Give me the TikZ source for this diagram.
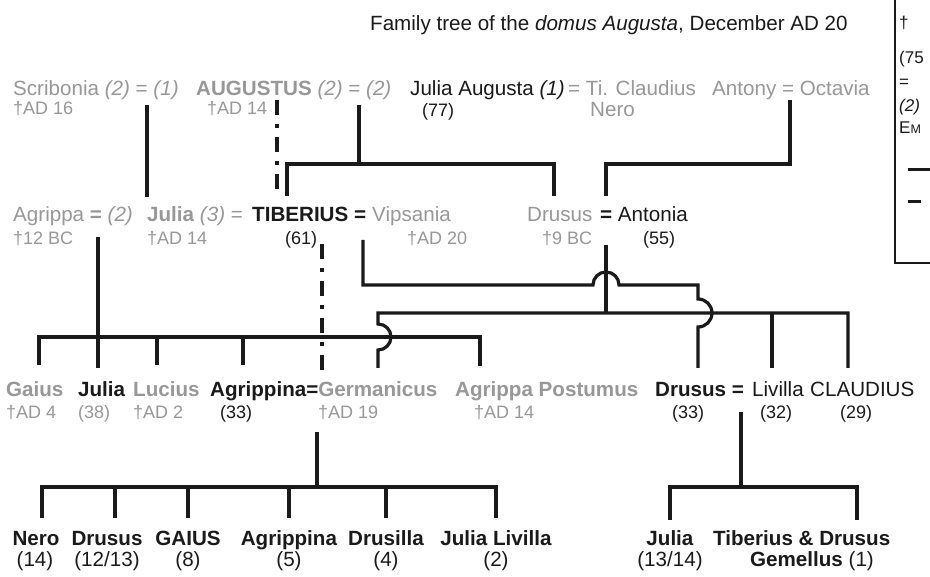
\documentclass[tikz,border=0pt]{standalone}
\usepackage{fontspec}
\setmainfont{Liberation Sans}
\definecolor{gr}{HTML}{989898}
\definecolor{bk}{HTML}{1A1A1A}
\tikzset{
  nm/.style={font=\fontsize{20.6}{22}\selectfont, inner sep=0pt, anchor=base west, text=bk},
  sb/.style={font=\fontsize{18}{20}\selectfont, inner sep=0pt, anchor=base west, text=bk},
  lg/.style={font=\fontsize{17}{19}\selectfont, inner sep=0pt, anchor=base west, text=bk},
  gy/.style={text=gr},
  ln/.style={line width=3.2pt, draw=bk},
  ad/.style={line width=3.2pt, draw=bk, dash pattern=on 15pt off 9pt on 4pt off 9pt},
}
\begin{document}
\begin{tikzpicture}[x=1pt,y=-1pt]
\path[use as bounding box] (0,0) rectangle (930,577);
\clip (0,0) rectangle (930,577);
\fill[white] (0,0) rectangle (930,577);

% title
\node[nm] (title) at (370,31) {Family tree of the \textit{domus Augusta}, December AD 20};

% legend (cut off at the right edge)
\draw[line width=1.3pt, bk] (895,-5) -- (895,263) -- (940,263);
\node[lg] (lg1) at (899,29) {†};
\node[lg] (lg2) at (899,64) {(75};
\node[lg] (lg3) at (899,88) {=};
\node[lg] (lg4) at (899,112) {\textit{(2)}};
\node[lg] (lg5) at (899,134) {E{\fontsize{12.5}{13}\selectfont M}};
\coordinate (lgA) at (908,170); \coordinate (lgB) at (940,170);
\coordinate (lgC) at (908,202); \coordinate (lgD) at (921,202);
\draw[line width=3pt, bk] (lgA) -- (lgB);
\draw[line width=3pt, bk] (lgC) -- (lgD);

% ---------- row 1
\node[nm,gy] (scr) at (13,96) {Scribonia \textit{(2)} = \textit{(1)}};
\node[nm,gy] (aug) at (196,96) {\textbf{AUGUSTUS} \textit{(2)} = \textit{(2)}};
\node[nm] (jaug) at (410,96) {Julia Augusta \textit{(1)}};
\node[nm,gy] (tcn) at (568,96) {= Ti. Claudius};
\node[nm,gy] (tcn2) at (590,117) {Nero};
\node[nm,gy] (ant) at (712,96) {Antony = Octavia};
\node[sb,gy] (scrd) at (13,115) {†AD 16};
\node[sb,gy] (augd) at (207,115) {†AD 14};
\node[sb] (jauga) at (422,117) {(77)};

% ---------- row 2
\node[nm,gy] (agr) at (13,222) {Agrippa \textbf{=} \textit{(2)}};
\node[nm,gy] (jul) at (147,222) {\textbf{Julia} \textit{(3)} =};
\node[nm] (tib) at (252,222) {\textbf{TIBERIUS =}};
\node[nm,gy] (vip) at (372,222) {Vipsania};
\node[nm,gy] (dru) at (527,222) {Drusus};
\node[nm] (anto) at (600,222) {\textbf{=} Antonia};
\node[sb,gy] (agrd) at (13,245) {†12 BC};
\node[sb,gy] (juld) at (147,245) {†AD 14};
\node[sb] (tiba) at (285,245) {(61)};
\node[sb,gy] (vipd) at (407,245) {†AD 20};
\node[sb,gy] (drud) at (542,245) {†9 BC};
\node[sb] (antoa) at (643,245) {(55)};

% ---------- row 3
\node[nm,gy] (gai) at (6,397) {\textbf{Gaius}};
\node[nm] (juli) at (78,397) {\textbf{Julia}};
\node[nm,gy] (luc) at (133,397) {\textbf{Lucius}};
\node[nm] (agp) at (210,397) {\textbf{Agrippina=\textcolor{gr}{Germanicus}}};
\node[nm,gy] (pos) at (455,397) {\textbf{Agrippa Postumus}};
\node[nm] (drs) at (655,397) {\textbf{Drusus =}};
\node[nm] (liv) at (752,397) {Livilla};
\node[nm] (cla) at (810,397) {CLAUDIUS};
\node[sb,gy] (gaid) at (6,419) {†AD 4};
\node[sb,gy] (julia) at (78,419) {(38)};
\node[sb,gy] (lucd) at (133,419) {†AD 2};
\node[sb] (agpa) at (220,419) {(33)};
\node[sb,gy] (gerd) at (318,419) {†AD 19};
\node[sb,gy] (posd) at (474,419) {†AD 14};
\node[sb] (drsa) at (672,419) {(33)};
\node[sb] (liva) at (760,419) {(32)};
\node[sb] (claa) at (840,419) {(29)};

% ---------- row 4
\node[nm,anchor=base] (ner) at (36,545) {\textbf{Nero}};
\node[nm,anchor=base] (drj) at (107,545) {\textbf{Drusus}};
\node[nm,anchor=base] (gau) at (188,545) {\textbf{GAIUS}};
\node[nm,anchor=base] (agj) at (289,545) {\textbf{Agrippina}};
\node[nm,anchor=base] (drl) at (386,545) {\textbf{Drusilla}};
\node[nm,anchor=base] (jlv) at (496,545) {\textbf{Julia Livilla}};
\node[nm,anchor=base] (jul2) at (670,545) {\textbf{Julia}};
\node[nm] (gem) at (713,545) {\textbf{Tiberius \& Drusus}};
\node[nm,anchor=base] (nera) at (35,566) {(14)};
\node[nm,anchor=base] (drja) at (107,566) {(12/13)};
\node[nm,anchor=base] (gaua) at (188,566) {(8)};
\node[nm,anchor=base] (agja) at (289,566) {(5)};
\node[nm,anchor=base] (drla) at (386,566) {(4)};
\node[nm,anchor=base] (jlva) at (496,566) {(2)};
\node[nm,anchor=base] (jul2a) at (670,566) {(13/14)};
\node[nm,anchor=base] (gem2) at (812,566) {\textbf{Gemellus} (1)};

% ---------- connectors row 1 -> row 2
\coordinate (sa) at (147,105);  \coordinate (sa2) at (147,197);
\draw[ln] (sa) -- (sa2);
\coordinate (adA) at (277,100); \coordinate (adB) at (277,196);
\draw[ad] (adA) -- (adB);
\coordinate (ja) at (359,105); \coordinate (jaH) at (359,164);
\draw[ln] (ja) -- (jaH);
\coordinate (tibT) at (287,196); \coordinate (druT) at (554,196);
\draw[ln] (tibT) |- (jaH) -| (druT);
\coordinate (ao) at (790,100); \coordinate (antoT) at (606,196);
\draw[ln] (ao) |- (700,164) -| (antoT);

% ---------- row 2 -> row 3
\coordinate (aj) at (98,237); \coordinate (juliT) at (98,368);
\draw[ln] (aj) -- (juliT);
\coordinate (gaiT) at (39,365); \coordinate (posT) at (480,366);
\draw[ln] (gaiT) |- (98,337) -| (posT);
\draw[ln] (157,337) -- (157,365);
\draw[ln] (243,337) -- (243,365);
\coordinate (adC) at (322,244); \coordinate (adD) at (322,372);
\draw[ad] (adC) -- (adD);
% Tiberius = Vipsania -> Drusus
\coordinate (tv) at (363,240); \coordinate (drsT) at (698,368);
\draw[ln] (tv) -- (363,285) -- (593,285) arc[start angle=180, end angle=360, radius=13]
  -- (698,285) -- (698,299) arc[start angle=-90, end angle=90, radius=14] -- (drsT);
% Drusus = Antonia -> Germanicus, Livilla, Claudius
\coordinate (da) at (606,245); \coordinate (daH) at (606,313);
\draw[ln] (da) -- (daH);
\coordinate (gerT) at (378,368); \coordinate (claT) at (848,368); \coordinate (livT) at (772,368);
\draw[ln] (gerT) -- (378,350) arc[start angle=90, end angle=-90, radius=13] -- (378,313) -- (848,313) -- (claT);
\draw[ln] (772,313) -- (livT);

% ---------- row 3 -> row 4
\coordinate (ga) at (317,432); \coordinate (gaH) at (317,487);
\draw[ln] (ga) -- (gaH);
\draw[ln] (42,518) |- (gaH) -| (496,518);
\foreach \xx in {115,188,289,386} \draw[ln] (\xx,487) -- (\xx,518);
\coordinate (dl) at (741,412); \coordinate (dlH) at (741,487);
\draw[ln] (dl) -- (dlH);
\draw[ln] (670,520) |- (dlH) -| (857,520);
\end{tikzpicture}
\end{document}
